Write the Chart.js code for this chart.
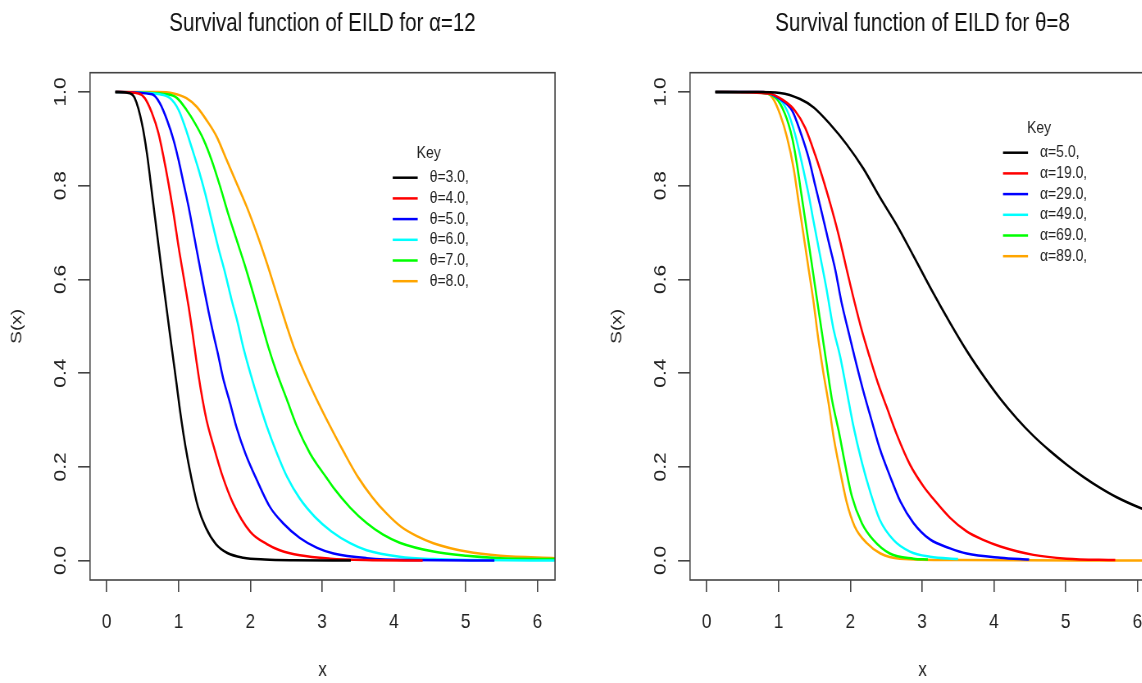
<!DOCTYPE html>
<html>
<head>
<meta charset="utf-8">
<script src="https://cdn.jsdelivr.net/npm/chart.js@4.4.1/dist/chart.umd.min.js"></script>
<style>
  html, body { margin: 0; padding: 0; background: #fff; overflow: hidden; width: 1142px; height: 683px; }
  /* the original figure is squeezed sideways, so each plot is drawn wide and scaled down */
  canvas { position: absolute; top: 0; width: 732px; height: 683px; transform: scaleX(0.8197); transform-origin: 0 0; }
  #leftPlot { left: 0; }
  #rightPlot { left: 600px; }
</style>
</head>
<body>
<canvas id="leftPlot" width="732" height="683"></canvas>
<canvas id="rightPlot" width="732" height="683"></canvas>
<script>
const SQ = 0.8197; // horizontal squeeze of the figure

// Axis ticks
const xTicks = [0, 1, 2, 3, 4, 5, 6];
const yTicks = [0, 0.2, 0.4, 0.6, 0.8, 1.0];

// Left panel: alpha = 12, varying theta  ([x, S(x)])
const thetaLabels = ["θ=3.0,", "θ=4.0,", "θ=5.0,", "θ=6.0,", "θ=7.0,", "θ=8.0,"];
const theta3 = [[0.12,1],[0.30,0.998],[0.39,0.987],[0.49,0.933],[0.56,0.869],[0.63,0.784],[0.70,0.698],[0.77,0.613],[0.83,0.542],[0.90,0.46],[0.97,0.38],[1.03,0.31],[1.10,0.24],[1.18,0.175],[1.27,0.115],[1.38,0.07],[1.52,0.035],[1.68,0.016],[1.90,0.006],[2.2,0.002],[2.6,0.0005],[3.4,0]];
const theta4 = [[0.12,1],[0.44,0.997],[0.53,0.987],[0.63,0.955],[0.72,0.912],[0.79,0.862],[0.86,0.805],[0.93,0.741],[1.0,0.67],[1.07,0.606],[1.14,0.542],[1.2,0.48],[1.25,0.425],[1.31,0.365],[1.39,0.300],[1.49,0.243],[1.60,0.186],[1.76,0.122],[2.0,0.061],[2.23,0.035],[2.41,0.022],[2.69,0.011],[3.11,0.004],[3.6,0.001],[4.4,0]];
const theta5 = [[0.12,1],[0.63,0.995],[0.74,0.976],[0.84,0.940],[0.93,0.898],[1.0,0.855],[1.07,0.805],[1.14,0.755],[1.21,0.698],[1.28,0.641],[1.35,0.584],[1.42,0.53],[1.49,0.48],[1.55,0.44],[1.62,0.39],[1.72,0.335],[1.81,0.283],[1.93,0.229],[2.09,0.172],[2.27,0.115],[2.46,0.079],[2.69,0.048],[2.93,0.027],[3.16,0.015],[3.62,0.005],[4.2,0.001],[5.4,0]];
const theta6 = [[0.12,1],[0.74,0.995],[0.88,0.987],[1.0,0.962],[1.09,0.926],[1.18,0.883],[1.28,0.834],[1.37,0.784],[1.46,0.727],[1.55,0.670],[1.65,0.613],[1.74,0.556],[1.82,0.51],[1.90,0.456],[2.0,0.400],[2.11,0.343],[2.23,0.286],[2.37,0.229],[2.51,0.179],[2.69,0.132],[2.90,0.093],[3.13,0.062],[3.39,0.037],[3.62,0.022],[4.08,0.008],[4.55,0.003],[5.2,0.001],[6.25,0]];
const theta7 = [[0.12,1],[0.84,0.995],[0.98,0.987],[1.11,0.962],[1.23,0.933],[1.35,0.898],[1.46,0.855],[1.58,0.798],[1.69,0.741],[1.81,0.684],[1.93,0.627],[2.04,0.570],[2.15,0.51],[2.25,0.456],[2.37,0.400],[2.51,0.343],[2.65,0.286],[2.83,0.229],[2.92,0.207],[3.06,0.177],[3.16,0.155],[3.39,0.113],[3.62,0.080],[3.85,0.055],[4.08,0.038],[4.55,0.019],[5.01,0.010],[5.48,0.005],[6.25,0.003]];
const theta8 = [[0.12,1],[0.70,1.0],[0.93,0.997],[1.11,0.987],[1.25,0.969],[1.39,0.940],[1.53,0.905],[1.67,0.855],[1.81,0.805],[1.95,0.755],[2.09,0.698],[2.23,0.635],[2.37,0.567],[2.51,0.499],[2.60,0.458],[2.74,0.405],[2.92,0.345],[3.10,0.290],[3.30,0.232],[3.50,0.178],[3.70,0.135],[3.90,0.100],[4.10,0.072],[4.32,0.052],[4.55,0.037],[5.01,0.019],[5.48,0.010],[6.25,0.005]];

// Right panel: theta = 8, varying alpha
const alphaLabels = ["α=5.0,", "α=19.0,", "α=29.0,", "α=49.0,", "α=69.0,", "α=89.0,"];
const alpha5 = [[0.12,1],[0.70,1.0],[1.02,0.998],[1.30,0.985],[1.49,0.967],[1.72,0.931],[1.95,0.888],[2.18,0.837],[2.42,0.773],[2.65,0.715],[2.88,0.650],[3.13,0.578],[3.39,0.507],[3.62,0.448],[3.86,0.393],[4.09,0.345],[4.32,0.303],[4.55,0.266],[4.78,0.234],[5.02,0.204],[5.25,0.178],[5.48,0.155],[5.71,0.135],[6.04,0.112],[6.25,0.100]];
const alpha19 = [[0.12,1],[0.88,0.996],[1.07,0.982],[1.23,0.960],[1.37,0.924],[1.51,0.866],[1.63,0.809],[1.74,0.751],[1.84,0.693],[1.95,0.621],[2.04,0.563],[2.16,0.491],[2.27,0.434],[2.39,0.376],[2.51,0.326],[2.65,0.268],[2.83,0.205],[3.02,0.158],[3.16,0.131],[3.39,0.091],[3.62,0.062],[3.85,0.044],[4.09,0.030],[4.55,0.012],[5.01,0.004],[5.69,0.001]];
const alpha29 = [[0.12,1],[0.79,1.0],[1.02,0.985],[1.19,0.960],[1.30,0.917],[1.42,0.859],[1.51,0.801],[1.60,0.744],[1.70,0.679],[1.79,0.621],[1.88,0.549],[1.97,0.491],[2.06,0.434],[2.18,0.362],[2.30,0.297],[2.41,0.239],[2.55,0.181],[2.70,0.125],[2.88,0.080],[3.11,0.045],[3.39,0.026],[3.62,0.015],[4.09,0.006],[4.49,0.002]];
const alpha49 = [[0.12,1],[0.70,0.999],[0.98,0.989],[1.12,0.960],[1.23,0.910],[1.32,0.852],[1.42,0.780],[1.49,0.722],[1.58,0.650],[1.67,0.578],[1.76,0.498],[1.86,0.434],[1.95,0.362],[2.04,0.289],[2.16,0.210],[2.28,0.145],[2.41,0.087],[2.60,0.044],[2.83,0.019],[3.11,0.008],[3.50,0.003]];
const alpha69 = [[0.12,1],[0.70,0.999],[0.95,0.989],[1.09,0.953],[1.19,0.902],[1.25,0.852],[1.32,0.780],[1.39,0.708],[1.46,0.636],[1.53,0.563],[1.60,0.491],[1.67,0.419],[1.74,0.347],[1.84,0.275],[1.93,0.203],[2.02,0.138],[2.16,0.080],[2.32,0.044],[2.55,0.015],[2.88,0.004],[3.08,0.002]];
const alpha89 = [[0.12,1],[0.79,1.0],[0.91,0.989],[1.02,0.953],[1.12,0.902],[1.21,0.837],[1.28,0.765],[1.35,0.693],[1.42,0.621],[1.49,0.549],[1.55,0.477],[1.62,0.405],[1.70,0.333],[1.77,0.261],[1.86,0.189],[1.95,0.124],[2.06,0.073],[2.23,0.037],[2.42,0.015],[2.69,0.004],[3.5,0.001],[6.25,0]];

const lineColors = ["#000000", "#ff0000", "#0000ff", "#00ffff", "#00ff00", "#ffa500"];

const font = "'Liberation Sans', Arial, sans-serif";
const axisCol = "#444";
const textCol = "#222";

// Title over the plot box, box round the plot, R-style rotated y labels and the "Key" legend
const rPlotExtras = {
  id: 'rPlotExtras',
  afterDraw(chart, args, opts) {
    const { ctx, chartArea: a, scales } = chart;
    ctx.save();
    ctx.fillStyle = "#111";
    ctx.font = "25px " + font;
    ctx.textAlign = 'center';
    ctx.textBaseline = 'middle';
    ctx.fillText(opts.title, (a.left + a.right) / 2, 24);

    ctx.strokeStyle = axisCol;
    ctx.lineWidth = 1.6;
    ctx.strokeRect(a.left, a.top, a.right - a.left, a.bottom - a.top);

    ctx.fillStyle = textCol;
    ctx.font = "21px " + font;
    yTicks.forEach(v => {
      ctx.save();
      ctx.translate(a.left - 29 / SQ, scales.y.getPixelForValue(v));
      ctx.rotate(-Math.PI / 2);
      ctx.fillText(v.toFixed(1), 0, 0);
      ctx.restore();
    });

    const x0 = a.left + opts.x / SQ, y0 = a.top + opts.y;
    ctx.font = "17px " + font;
    ctx.fillText("Key", x0 + 36 / SQ, y0 - 24);
    ctx.textAlign = 'left';
    chart.data.datasets.forEach((ds, i) => {
      const y = y0 + i * 20.7;
      ctx.strokeStyle = ds.borderColor;
      ctx.lineWidth = 2.5;
      ctx.beginPath();
      ctx.moveTo(x0, y);
      ctx.lineTo(x0 + 25 / SQ, y);
      ctx.stroke();
      ctx.fillText(ds.label, x0 + 37 / SQ, y);
    });
    ctx.restore();
  }
};

function makePlot(canvasId, titleText, labels, series, keyPos) {
  return new Chart(document.getElementById(canvasId), {
    type: 'line',
    data: {
      datasets: series.map((pts, i) => ({
        label: labels[i],
        data: pts.map(p => ({ x: p[0], y: p[1] })),
        borderColor: lineColors[i],
        borderWidth: 2.5,
        pointRadius: 0,
        fill: false,
        cubicInterpolationMode: 'monotone'
      }))
    },
    options: {
      responsive: false,
      animation: false,
      devicePixelRatio: 1,
      layout: { padding: { left: 0, right: 732 - 555 / SQ, top: 72.7, bottom: 0 } },
      plugins: {
        legend: { display: false },
        tooltip: { enabled: false },
        title: { display: false },
        rPlotExtras: Object.assign({ title: titleText }, keyPos)
      },
      scales: {
        x: {
          type: 'linear',
          min: -0.233,
          max: 6.244,
          afterBuildTicks: s => { s.ticks = xTicks.map(v => ({ value: v })); },
          afterFit: s => { s.height = 103; },
          border: { display: false },
          grid: { drawOnChartArea: false, drawTicks: true, tickLength: 12, color: axisCol, lineWidth: 1.6 },
          ticks: { color: textCol, font: { family: font, size: 21 }, padding: 17.4, maxRotation: 0, autoSkip: false },
          title: { display: true, text: "x", color: textCol, font: { family: font, size: 21 }, padding: 0 }
        },
        y: {
          type: 'linear',
          min: -0.0416,
          max: 1.0412,
          afterBuildTicks: s => { s.ticks = yTicks.map(v => ({ value: v })); },
          afterFit: s => { s.width = 90 / SQ; },
          border: { display: false },
          grid: { drawOnChartArea: false, drawTicks: true, tickLength: 12 / SQ, color: axisCol, lineWidth: 1.6 },
          ticks: { display: false },
          title: { display: true, text: "S(x)", color: textCol, font: { family: font, size: 19 }, padding: { top: 9.3, bottom: 0 } }
        }
      }
    },
    plugins: [rPlotExtras]
  });
}

makePlot("leftPlot", "Survival function of EILD for α=12", thetaLabels,
  [theta3, theta4, theta5, theta6, theta7, theta8], { x: 302.7, y: 105 });
makePlot("rightPlot", "Survival function of EILD for θ=8", alphaLabels,
  [alpha5, alpha19, alpha29, alpha49, alpha69, alpha89], { x: 313, y: 80 });
</script>
</body>
</html>
